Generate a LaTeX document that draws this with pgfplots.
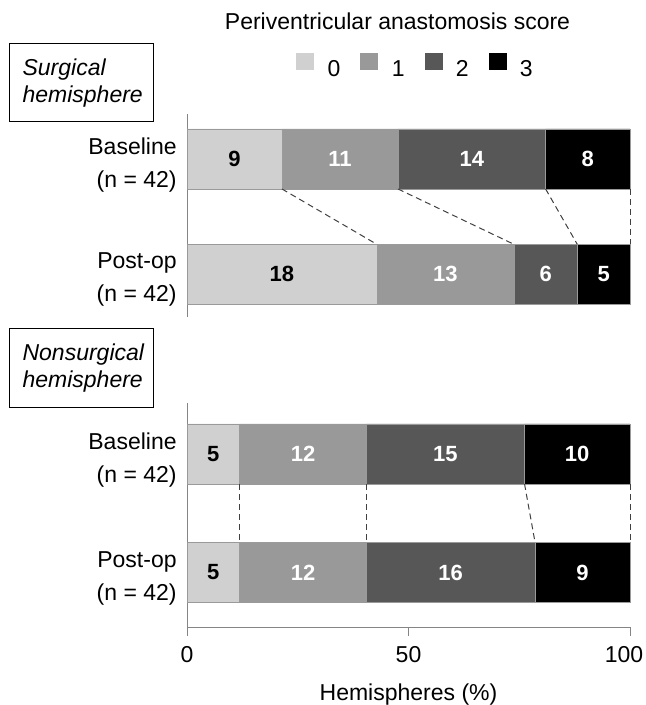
\documentclass[border=0pt]{standalone}
\usepackage{pgfplots}
\pgfplotsset{compat=1.18}
\usepackage{fontspec}
\setmainfont{Liberation Sans}
\definecolor{c0}{HTML}{D0D0D0}
\definecolor{c1}{HTML}{999999}
\definecolor{c2}{HTML}{575757}
\definecolor{c3}{HTML}{000000}
\definecolor{axgray}{HTML}{858585}
\definecolor{bargray}{HTML}{9A9A9A}
\definecolor{dashgray}{HTML}{404040}
\newcommand{\mainfs}{\fontsize{11.5}{13.5}\selectfont}
\newcommand{\labfs}{\fontsize{11.5}{16.5}\selectfont}
\pgfplotsset{
  /pgf/number format/assume math mode=true,
  sqleg/.style={legend image code/.code={\fill[##1,draw=none] (0pt,-0.2pt) rectangle (9pt,8.3pt); \path (15.5pt,0pt);}},
  barlab/.style={nodes near coords, point meta=explicit,
     nodes near coords style={font=\fontsize{11}{12}\selectfont\bfseries, text=#1, anchor=center, inner sep=0pt}},
  panel/.style={scale only axis, width=221.5pt, xmin=0, xmax=100, clip=false,
     font=\mainfs, tick label style={font=\mainfs}, label style={font=\mainfs},
     axis line style={-, draw=axgray, line width=0.5pt},
     ytick={0,1}, ytick style={draw=none},
     yticklabels={{Post-op\\(n = 42)},{Baseline\\(n = 42)}},
     yticklabel style={align=right, anchor=east, inner sep=0pt, xshift=-5pt, yshift=-2.8pt, font=\labfs}},
  bar/.style={fill=#1, draw=bargray, line width=0.3pt, sqleg},
  conn/.style={dashgray, line width=0.5pt, dash pattern=on 3pt off 2pt, forget plot},
}
\begin{document}
\begin{tikzpicture}
\useasboundingbox (0,0) rectangle (323pt,-352.5pt);
% title
\node[font=\mainfs, anchor=base] at (198.75pt,-15pt) {Periventricular anastomosis score};
% panel boxes
\node[draw, line width=0.6pt, anchor=north west, minimum width=72pt, minimum height=39pt,
      inner xsep=6.5pt, text width=59pt, align=left, font=\mainfs\itshape] at (4.5pt,-21.5pt) {Surgical\\hemisphere};
\node[draw, line width=0.6pt, anchor=north west, minimum width=72pt, minimum height=39.5pt,
      inner xsep=6.5pt, text width=59pt, align=left, font=\mainfs\itshape] at (4.5pt,-164pt) {Nonsurgical\\hemisphere};

% ---------- top panel ----------
\begin{axis}[panel, at={(93.5pt,-158.5pt)}, anchor=south west, height=101.5pt,
  xbar stacked, bar width=0.52, ymin=-0.37, ymax=1.39,
  hide x axis, axis y line*=left,
  legend style={at={(0.2460,1.234)}, anchor=west, draw=none, fill=none, legend columns=4,
     inner sep=0pt, column sep=0pt, nodes={inner sep=0pt, font=\mainfs},
     /tikz/every even column/.append style={column sep=10pt}},
  legend cell align=left]
\addplot[bar=c0, barlab=black] coordinates {(21.43,1) [9] (42.86,0) [18]};
\addlegendentry{0}
\addplot[bar=c1, barlab=white] coordinates {(26.19,1) [11] (30.95,0) [13]};
\addlegendentry{1}
\addplot[bar=c2, barlab=white] coordinates {(33.33,1) [14] (14.29,0) [6]};
\addlegendentry{2}
\addplot[bar=c3, barlab=white] coordinates {(19.05,1) [8] (11.90,0) [5]};
\addlegendentry{3}
\end{axis}
\begin{axis}[scale only axis, at={(93.5pt,-158.5pt)}, anchor=south west, width=221.5pt, height=101.5pt,
  xmin=0, xmax=100, ymin=-0.37, ymax=1.39, hide axis, clip=false]
\addplot[conn] coordinates {(21.43,0.74) (42.86,0.26)};
\addplot[conn] coordinates {(47.62,0.74) (73.81,0.26)};
\addplot[conn] coordinates {(80.95,0.74) (88.10,0.26)};
\addplot[conn] coordinates {(100,0.74) (100,0.26)};
\end{axis}

% ---------- bottom panel ----------
\begin{axis}[panel, at={(93.5pt,-313.5pt)}, anchor=south west, height=112pt,
  xbar stacked, bar width=0.506, ymin=-0.46, ymax=1.43,
  axis x line*=bottom, axis y line*=left,
  yticklabel style={xshift=4.5pt},
  xtick={0,50}, extra x ticks={100},
  xticklabel style={yshift=-1.5pt},
  extra x tick style={xticklabel style={xshift=-3pt}},
  tick align=outside, major tick length=4.5pt,
  xtick style={draw=axgray, line width=0.5pt},
  xlabel={Hemispheres (\%)}, xlabel style={yshift=5pt}]
\addplot[bar=c0, barlab=black] coordinates {(11.90,1) [5] (11.90,0) [5]};
\addplot[bar=c1, barlab=white] coordinates {(28.57,1) [12] (28.57,0) [12]};
\addplot[bar=c2, barlab=white] coordinates {(35.71,1) [15] (38.10,0) [16]};
\addplot[bar=c3, barlab=white] coordinates {(23.81,1) [10] (21.43,0) [9]};
\end{axis}
\begin{axis}[scale only axis, at={(93.5pt,-313.5pt)}, anchor=south west, width=221.5pt, height=112pt,
  xmin=0, xmax=100, ymin=-0.46, ymax=1.43, hide axis, clip=false]
\addplot[conn] coordinates {(11.90,0.747) (11.90,0.253)};
\addplot[conn] coordinates {(40.48,0.747) (40.48,0.253)};
\addplot[conn] coordinates {(76.19,0.747) (78.57,0.253)};
\addplot[conn] coordinates {(100,0.747) (100,0.253)};
\end{axis}
\end{tikzpicture}
\end{document}
